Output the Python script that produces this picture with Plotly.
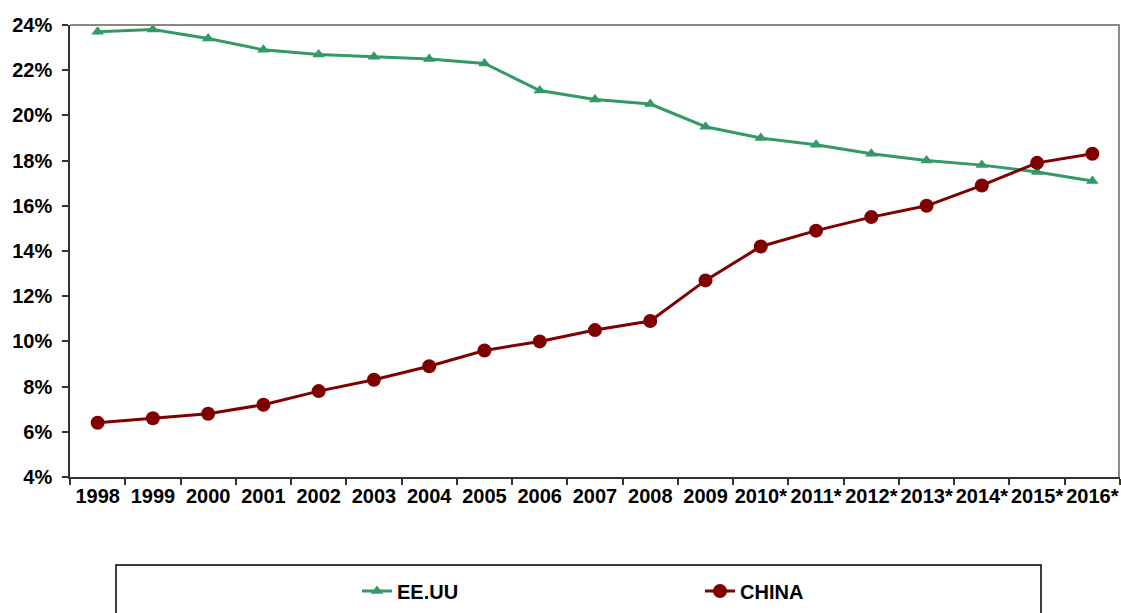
import plotly.graph_objects as go

years = ["1998", "1999", "2000", "2001", "2002", "2003", "2004", "2005", "2006", "2007",
         "2008", "2009", "2010*", "2011*", "2012*", "2013*", "2014*", "2015*", "2016*"]
eeuu = [23.7, 23.8, 23.4, 22.9, 22.7, 22.6, 22.5, 22.3, 21.1, 20.7,
        20.5, 19.5, 19.0, 18.7, 18.3, 18.0, 17.8, 17.5, 17.1]
china = [6.4, 6.6, 6.8, 7.2, 7.8, 8.3, 8.9, 9.6, 10.0, 10.5,
         10.9, 12.7, 14.2, 14.9, 15.5, 16.0, 16.9, 17.9, 18.3]
y_ticks = [4, 6, 8, 10, 12, 14, 16, 18, 20, 22, 24]

GREEN = "#339966"
RED = "#800000"
FONT = "Liberation Sans, Arial, sans-serif"

# plot area targets x 70..1120, y 25..477 (page body margin removed below)
fig = go.Figure()
fig.add_trace(go.Scatter(x=years, y=eeuu, name="<b>EE.UU</b>", mode="lines+markers",
                         line=dict(color=GREEN, width=3),
                         marker=dict(symbol="triangle-up", size=11, color=GREEN),
                         legend="legend"))
fig.add_trace(go.Scatter(x=years, y=china, name="<b>CHINA</b>", mode="lines+markers",
                         line=dict(color=RED, width=3),
                         marker=dict(symbol="circle", size=14, color=RED),
                         legend="legend2"))

fig.update_layout(
    width=1121, height=613,
    margin=dict(l=70, r=1, t=25, b=136, autoexpand=False),
    paper_bgcolor="white", plot_bgcolor="white",
    font=dict(family=FONT, size=20, color="black"),
    showlegend=True,
    legend=dict(x=(357 - 70) / 1050, xanchor="left", y=(477 - 591) / 452, yanchor="middle",
                font=dict(size=20, family=FONT), bgcolor="rgba(0,0,0,0)"),
    legend2=dict(x=(700 - 70) / 1050, xanchor="left", y=(477 - 591) / 452, yanchor="middle",
                 font=dict(size=20, family=FONT), bgcolor="rgba(0,0,0,0)"),
    xaxis=dict(type="category", range=[-0.5, 18.5], tickson="boundaries",
               tickangle=0, automargin=False,
               ticks="outside", ticklen=6, tickcolor="#333333", tickwidth=1.5,
               showline=True, linecolor="#333333", linewidth=1.5,
               showgrid=False, zeroline=False,
               tickfont=dict(family=FONT, size=20, color="black"),
               tickprefix="<b>", ticksuffix="</b>"),
    yaxis=dict(range=[4, 24], tickvals=y_ticks, automargin=False,
               ticktext=[f"<b>{v}%</b>" for v in y_ticks],
               ticks="outside", ticklen=6, tickcolor="#333333", tickwidth=1.5,
               showline=True, linecolor="#333333", linewidth=1.5,
               showgrid=False, zeroline=False, ticklabelstandoff=6,
               tickfont=dict(family=FONT, size=20, color="black")),
)

# top and right plot border (gray)
fig.add_shape(type="line", xref="paper", yref="paper", x0=0, x1=1, y0=1, y1=1,
              line=dict(color="#888888", width=2))
fig.add_shape(type="line", xref="paper", yref="paper", x0=0.999, x1=0.999, y0=0, y1=1,
              line=dict(color="#888888", width=2))
# legend box
fig.add_shape(type="rect", xref="paper", yref="paper",
              x0=(116 - 70) / 1050, x1=(1041 - 70) / 1050,
              y0=(477 - 565) / 452, y1=(477 - 640) / 452,
              line=dict(color="black", width=1.5), fillcolor="rgba(0,0,0,0)")

fig.write_html("out.html", config={"displayModeBar": False},
               post_script="document.body.style.margin='0';document.body.style.overflow='hidden';")
